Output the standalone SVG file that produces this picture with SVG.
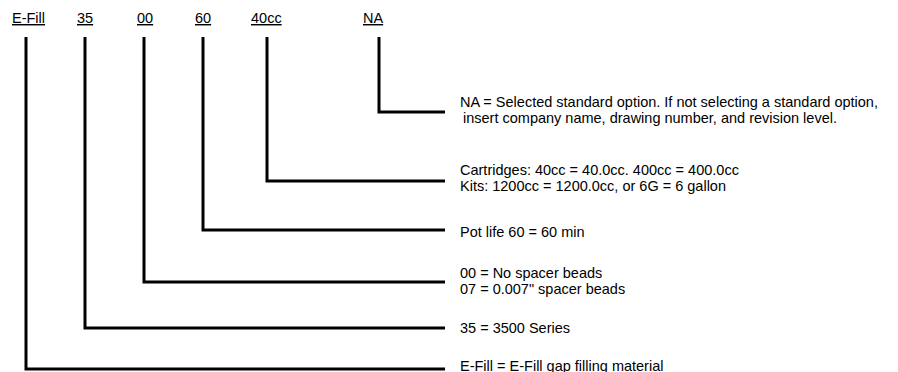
<svg xmlns="http://www.w3.org/2000/svg" width="898" height="372" viewBox="0 0 898 372">
<style>
text{font-family:"Liberation Sans",Arial,sans-serif;font-size:14.5px;fill:#000}
.lbl{text-decoration:underline}
.c{fill:none;stroke:#000;stroke-width:3;stroke-linecap:butt;stroke-linejoin:miter}
</style>
<rect width="898" height="372" fill="#fff"/>
<g id="connectors">
<polyline class="c" points="379,37 379,112 445,112"/>
<polyline class="c" points="267,37 267,181 445,181"/>
<polyline class="c" points="203,37 203,230 445,230"/>
<polyline class="c" points="144,37 144,282 445,282"/>
<polyline class="c" points="85,37 85,328 445,328"/>
<polyline class="c" points="26,37 26,369 445,369"/>
</g>
<g id="code-efill"><text class="lbl" x="12" y="23">E-Fill</text></g>
<g id="code-35"><text class="lbl" x="77" y="23">35</text></g>
<g id="code-00"><text class="lbl" x="137" y="23">00</text></g>
<g id="code-60"><text class="lbl" x="195" y="23">60</text></g>
<g id="code-40cc"><text class="lbl" x="251" y="23">40cc</text></g>
<g id="code-na"><text class="lbl" x="363" y="23">NA</text></g>
<g id="desc-na">
<text x="460" y="107">NA = Selected standard option. If not selecting a standard option,</text>
<text x="463" y="123">insert company name, drawing number, and revision level.</text>
</g>
<g id="desc-40cc">
<text x="460" y="175">Cartridges: 40cc = 40.0cc. 400cc = 400.0cc</text>
<text x="460" y="191">Kits: 1200cc = 1200.0cc, or 6G = 6 gallon</text>
</g>
<g id="desc-60"><text x="460" y="237">Pot life 60 = 60 min</text></g>
<g id="desc-00">
<text x="460" y="278">00 = No spacer beads</text>
<text x="460" y="294">07 = 0.007" spacer beads</text>
</g>
<g id="desc-35"><text x="460" y="333">35 = 3500 Series</text></g>
<g id="desc-efill"><text x="460" y="371">E-Fill = E-Fill gap filling material</text></g>
</svg>
